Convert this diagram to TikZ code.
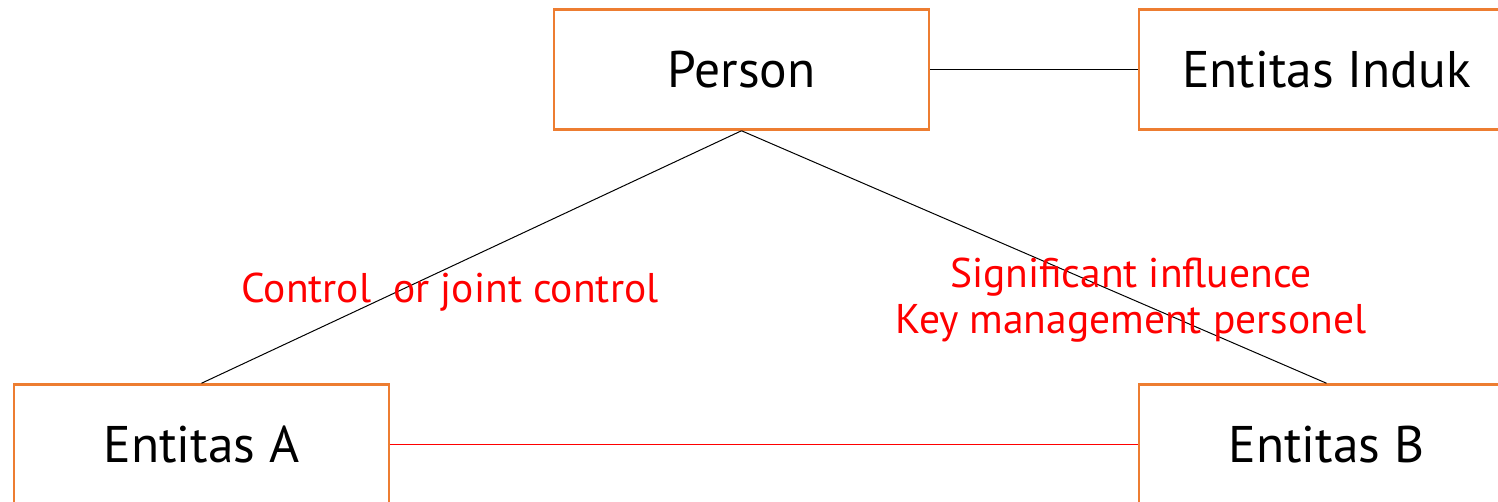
\documentclass[tikz,border=0pt]{standalone}
\usepackage{fontspec}
\setmainfont{PT Sans}
\definecolor{boxorange}{HTML}{ED7D31}
\definecolor{labelred}{HTML}{FF0000}
\begin{document}
\begin{tikzpicture}[x=1pt,y=-1pt,
  entity/.style={draw=boxorange,line width=2.5pt,rectangle,minimum width=375pt,minimum height=120pt,inner sep=0pt,font=\fontsize{51.5}{60}\selectfont},
  relation/.style={text=labelred,align=center,inner sep=0pt,font=\fontsize{41.5}{46}\selectfont},
  link/.style={line width=1pt,black}]
\useasboundingbox (0,0) rectangle (1498,501);
\clip (0,0) rectangle (1498,501);
\node[entity] (person) at (741.5,69.5) {Person};
\node[entity] (induk) at (1326.5,69.5) {Entitas Induk};
\node[entity] (ea) at (201.5,444.5) {Entitas A};
\node[entity] (eb) at (1326.5,444.5) {Entitas B};
\draw[link] (person.east) -- (induk.west);
\draw[link] (person.south) -- (ea.north);
\draw[link] (person.south) -- (eb.north);
\draw[line width=1pt,labelred] (ea.east) -- (eb.west);
\node[relation] (ctrl) at (450,292) {Control\ \ or joint control};
\node[relation] (sig) at (1131,300) {Significant influence\\Key management personel};
\end{tikzpicture}
\end{document}
